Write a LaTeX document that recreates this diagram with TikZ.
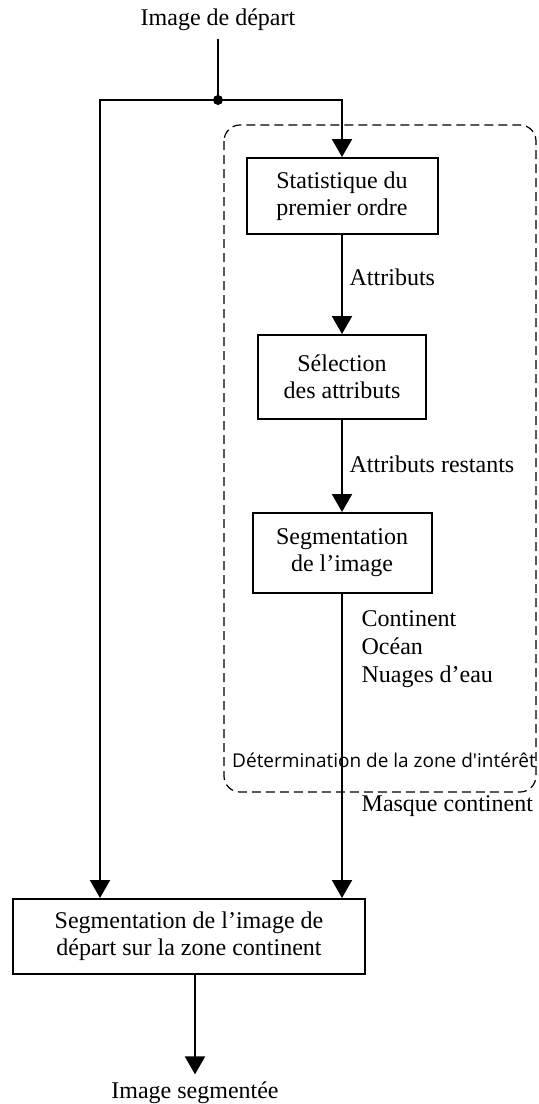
\documentclass[tikz,border=0pt]{standalone}
\usepackage{fontspec}
\setmainfont{Liberation Serif}
\newfontfamily\zonefont{Open Sans}
\usetikzlibrary{arrows.meta, positioning}

\tikzset{
  procbox/.style={draw, line width=1pt, align=center, inner sep=0pt,
    font=\fontsize{12}{13.5}\selectfont},
  flowlabel/.style={anchor=west, align=left, font=\fontsize{12}{14}\selectfont},
  flow/.style={->, line width=1pt}
}

\begin{document}
\begin{tikzpicture}[x=0.5pt, y=-0.5pt, >={Triangle[width=10pt,length=9pt]}, line width=1pt]
      \useasboundingbox (0,0) rectangle (539,1104);

      % Zone of interest
      \draw[dashed, line width=0.6pt, dash pattern=on 4.5pt off 2.5pt, rounded corners=8pt]
        (224,125) rectangle (536,792);
      \node[font=\zonefont\fontsize{9.5}{11}\selectfont] (zone) at (384,760) {Détermination de la zone d'intérêt};

      % Nodes
      \node[font=\fontsize{12}{14}\selectfont] (input) at (218,20) {Image de départ};
      \coordinate (split) at (218,100);
      \coordinate (leftturn) at (100,100);

      \node[procbox, minimum width=95.5pt, minimum height=38pt] (stat) at (342,196)
        {Statistique du\\premier ordre};
      \node[procbox, minimum width=84pt, minimum height=42pt, below=49.5pt of stat] (select)
        {Sélection\\des attributs};
      \node[procbox, minimum width=89.5pt, minimum height=40pt, below=46pt of select] (segm)
        {Segmentation\\de l’image};
      \node[procbox, minimum width=176pt, minimum height=37.5pt] (final) at (189,936.5)
        {Segmentation de l’image de\\départ sur la zone continent};
      \node[font=\fontsize{12}{14}\selectfont] (output) at (195,1093) {Image segmentée};

      % Arrows
      \draw (input) -- (split);
      \fill (split) circle[radius=2.5pt];
      \draw[flow] (split) -- (leftturn) -- (leftturn |- final.north);
      \draw[flow] (split) -| (stat.north);
      \draw[flow] (stat) -- node[flowlabel, pos=0.43] {Attributs} (select);
      \draw[flow] (select) -- node[flowlabel, pos=0.48] {Attributs restants} (segm);
      \draw[flow] (segm.south) -- (segm.south |- final.north);
      \draw[flow] (final.south -| output) -- (output.north);

      % Labels
      \node[flowlabel] (classes) at (354,649) {Continent\\Océan\\Nuages d’eau};
      \node[flowlabel] (mask) at (354,806) {Masque continent};
    \end{tikzpicture}
\end{document}
